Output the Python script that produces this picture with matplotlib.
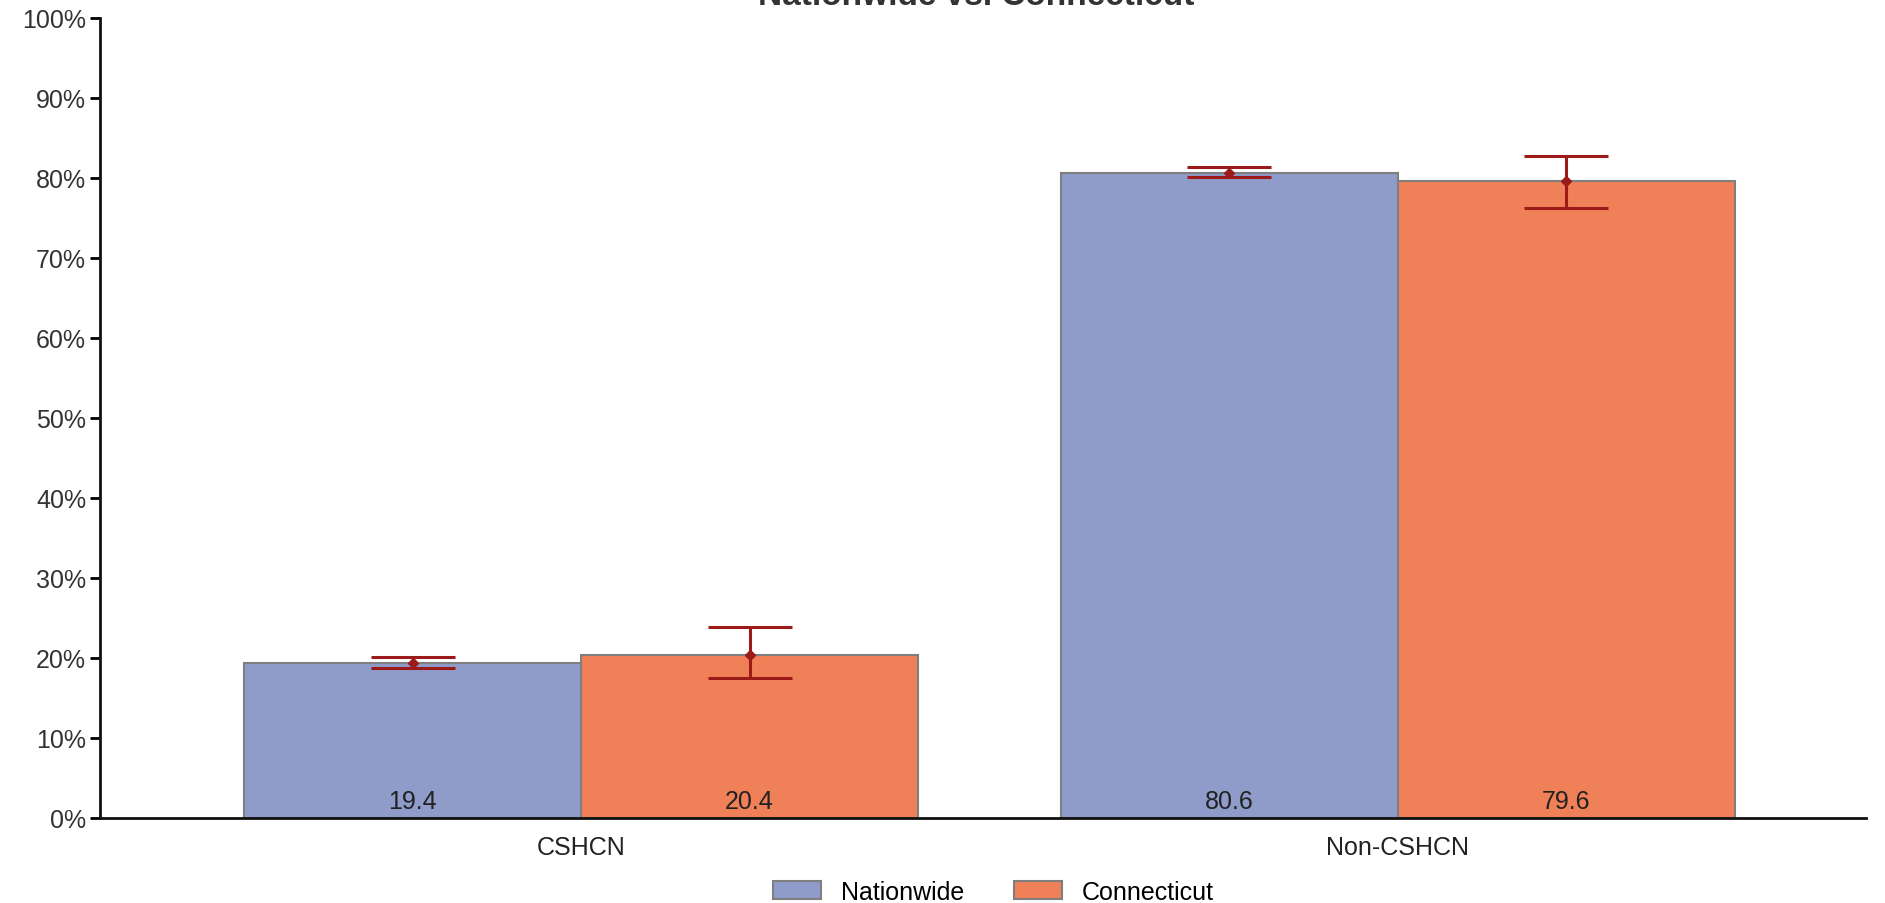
import matplotlib
matplotlib.use('Agg')
import matplotlib.pyplot as plt
import numpy as np

plt.rcParams['font.family'] = ['Liberation Sans', 'DejaVu Sans']

categories = ['CSHCN', 'Non-CSHCN']
series = ['Nationwide', 'Connecticut']
values = {'Nationwide': [19.4, 80.6], 'Connecticut': [20.4, 79.6]}
lower = {'Nationwide': [18.7, 80.1], 'Connecticut': [17.5, 76.2]}
upper = {'Nationwide': [20.1, 81.4], 'Connecticut': [23.9, 82.8]}
colors = {'Nationwide': '#8f9bc9', 'Connecticut': '#ef8057'}
yticks = [0, 10, 20, 30, 40, 50, 60, 70, 80, 90, 100]

fig = plt.figure(figsize=(18.85, 9.04), dpi=100)
ax = fig.add_axes([100 / 1885, 1 - 819 / 904, 1766 / 1885, 800 / 904])

x = np.arange(len(categories))
w = 0.4125
for i, s in enumerate(series):
    xs = x + (i - 0.5) * w
    v = np.array(values[s])
    ax.bar(xs, v, width=w, color=colors[s], edgecolor='#7f7f7f', linewidth=1.5, label=s, zorder=2)
    yerr = [v - np.array(lower[s]), np.array(upper[s]) - v]
    ax.errorbar(xs, v, yerr=yerr, fmt='D', color='#9c1a1a', ecolor='#9c1a1a', markersize=5,
                capsize=30, capthick=2.2, elinewidth=2.2, zorder=3)
    for xx, vv in zip(xs, v):
        ax.text(xx, 2.1, f'{vv:.1f}', ha='center', va='center', fontsize=18, color='#222222')

ax.set_xlim(-0.589, 1.573)
ax.set_ylim(0, 100)
ax.set_yticks(yticks)
ax.set_yticklabels([f'{t}%' for t in yticks], fontsize=18, color='#333333')
ax.set_xticks(x)
ax.set_xticklabels(categories, fontsize=18, color='#222222')
ax.tick_params(axis='x', length=0, pad=12)
ax.tick_params(axis='y', length=7, width=2, pad=3)
for sp in ['top', 'right']:
    ax.spines[sp].set_visible(False)
for sp in ['left', 'bottom']:
    ax.spines[sp].set_linewidth(2)
    ax.spines[sp].set_color('#111111')

fig.text(0.518, 1 - 5 / 904, 'Nationwide vs. Connecticut', ha='center', va='baseline',
         fontsize=24, fontweight='bold', color='#333333')

leg = fig.legend(loc='lower center', bbox_to_anchor=(0.527, -0.026), ncol=2, frameon=False,
                 fontsize=18, handlelength=1.9, handleheight=0.75, columnspacing=2.0)

fig.savefig('out.png', dpi=100)
